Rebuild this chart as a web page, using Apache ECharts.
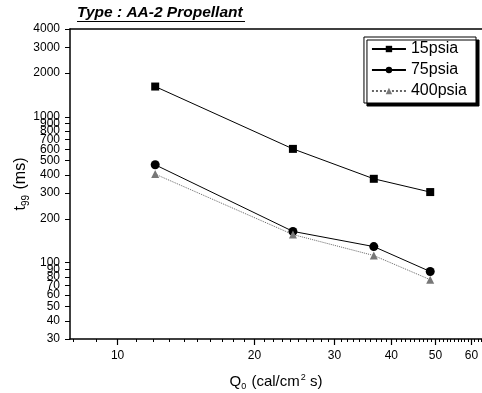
<!DOCTYPE html>
<html>
<head>
<meta charset="utf-8">
<script src="https://cdn.jsdelivr.net/npm/echarts@6/dist/echarts.min.js"></script>
<style>
html,body{margin:0;padding:0;background:#fff;}
#chart{width:482px;height:393px;}
</style>
</head>
<body>
<div id="chart"></div>
<script>
// Data
const seriesNames = ['15psia', '75psia', '400psia'];
const heatFlux = [12.1, 24.3, 36.6, 48.7];          // Q0 (cal/cm2 s)
const t15psia = [1613, 603, 376, 305];              // ms
const t75psia = [469, 164, 129, 87];
const t400psia = [405, 156, 112, 76.5];

// Axis ticks
const xMajorTicks = [10, 20, 30, 40, 50, 60];
const xMinorTicks = [8, 9, 11, 12, 13, 14, 15, 16, 17, 18, 19, 21, 22, 23, 24, 25, 26, 27, 28, 29,
  31, 32, 33, 34, 35, 36, 37, 38, 39, 41, 42, 43, 44, 45, 46, 47, 48, 49,
  51, 52, 53, 54, 55, 56, 57, 58, 59, 61, 62, 63];
const yTicks = [30, 40, 50, 60, 70, 80, 90, 100, 200, 300, 400, 500, 600, 700, 800, 900, 1000, 2000, 3000, 4000];

const chart = echarts.init(document.getElementById('chart'), null, {renderer: 'canvas'});
const FONT = 'Liberation Sans, Arial, sans-serif';

function pairs(xs, ys) { return xs.map((x, i) => [x, ys[i]]); }
function plain(v) { return String(Math.round(v)); }

const xMin = 7.86, xMax = 63.3;

const option = {
  backgroundColor: '#fff',
  animation: false,
  grid: {left: 70, right: 0, top: 29, bottom: 54, show: false, containLabel: false, outerBoundsMode: 'none'},
  legend: {
    orient: 'vertical',
    right: 6,
    top: 37,
    data: seriesNames,
    itemWidth: 34,
    itemHeight: 8,
    itemGap: 5,
    padding: [4, 9, 4, 7],
    backgroundColor: '#fff',
    borderColor: '#000',
    borderWidth: 1,
    shadowColor: '#000',
    shadowBlur: 0,
    shadowOffsetX: 3,
    shadowOffsetY: 3,
    textStyle: {fontFamily: FONT, fontSize: 16, color: '#000'}
  },
  graphic: [
    {type: 'text', left: 77, top: 5,
      style: {text: 'Type : AA-2 Propellant', font: 'italic bold 15.5px ' + FONT, fill: '#000'}},
    {type: 'line', shape: {x1: 77, y1: 21.5, x2: 245, y2: 21.5}, style: {stroke: '#000', lineWidth: 1}}
  ],
  xAxis: [
    {
      type: 'log', logBase: 10, min: xMin, max: xMax, position: 'bottom',
      name: '{a|Q}{sub|0}{a| (cal/cm}{sup|2}{a| s)}',
      nameLocation: 'middle', nameGap: 34,
      nameTextStyle: {
        rich: {
          a: {fontFamily: FONT, fontSize: 15, color: '#000', lineHeight: 18},
          sub: {fontFamily: FONT, fontSize: 9, color: '#000', verticalAlign: 'bottom', lineHeight: 18, padding: [6, 1, 0, 0]},
          sup: {fontFamily: FONT, fontSize: 9, color: '#000', verticalAlign: 'top', lineHeight: 18, padding: [0, 0, 6, 1]}
        }
      },
      axisLine: {show: true, lineStyle: {color: '#000', width: 1.5}},
      axisTick: {show: true, inside: false, length: 6, customValues: xMajorTicks, lineStyle: {color: '#000', width: 1.2}},
      axisLabel: {show: true, customValues: xMajorTicks, margin: 11, fontFamily: FONT, fontSize: 12, color: '#000', formatter: plain},
      splitLine: {show: false}, minorTick: {show: false}
    },
    {
      type: 'log', logBase: 10, min: xMin, max: xMax, position: 'bottom', offset: 0,
      axisLine: {show: false},
      axisTick: {show: true, inside: false, length: 3, customValues: xMinorTicks, lineStyle: {color: '#000', width: 1}},
      axisLabel: {show: false},
      splitLine: {show: false}
    },
    {
      type: 'log', logBase: 10, min: xMin, max: xMax, position: 'top',
      axisLine: {show: true, lineStyle: {color: '#000', width: 1.5}},
      axisTick: {show: false}, axisLabel: {show: false}, splitLine: {show: false}
    }
  ],
  yAxis: {
    type: 'log', logBase: 10, min: 30, max: 4000,
    name: '{a|t}{sub|99}{a| (ms)}',
    nameLocation: 'middle', nameGap: 39, nameRotate: 90, nameMoveOverlap: false,
    nameTextStyle: {
      rich: {
        a: {fontFamily: FONT, fontSize: 16, color: '#000', lineHeight: 20},
        sub: {fontFamily: FONT, fontSize: 10, color: '#000', verticalAlign: 'bottom', lineHeight: 20, padding: [7, 1, 0, 0]}
      }
    },
    axisLine: {show: true, lineStyle: {color: '#000', width: 1.5}},
    axisTick: {show: true, inside: false, length: 5, customValues: yTicks, lineStyle: {color: '#000', width: 1}},
    axisLabel: {show: true, customValues: yTicks, margin: 10, fontFamily: FONT, fontSize: 12, color: '#000', formatter: plain},
    splitLine: {show: false}
  },
  series: [
    {
      name: seriesNames[0], type: 'line', xAxisIndex: 0,
      data: pairs(heatFlux, t15psia),
      symbol: 'rect', symbolSize: 8,
      itemStyle: {color: '#000'},
      lineStyle: {color: '#000', width: 1, type: 'solid'}
    },
    {
      name: seriesNames[1], type: 'line', xAxisIndex: 0,
      data: pairs(heatFlux, t75psia),
      symbol: 'circle', symbolSize: 9,
      itemStyle: {color: '#000'},
      lineStyle: {color: '#000', width: 1, type: 'solid'}
    },
    {
      name: seriesNames[2], type: 'line', xAxisIndex: 0,
      data: pairs(heatFlux, t400psia),
      symbol: 'triangle', symbolSize: 8,
      itemStyle: {color: '#777'},
      lineStyle: {color: '#666', width: 1, type: 'dotted'}
    }
  ]
};
chart.setOption(option);
</script>
</body>
</html>
